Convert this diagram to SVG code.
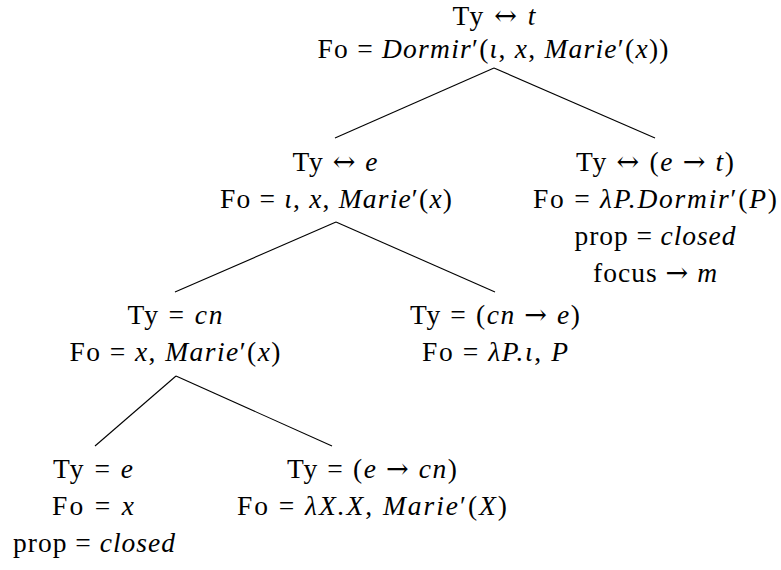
<svg xmlns="http://www.w3.org/2000/svg" width="781" height="570" viewBox="0 0 781 570">
<style>
text{font-family:"Liberation Serif","Times New Roman",serif;font-size:27.5px;fill:#000;text-anchor:middle}
.i{font-style:italic}
.a{font-family:"DejaVu Serif",serif;font-size:27px}
.edge{stroke:#000;stroke-width:1.1;fill:none}
</style>
<rect width="781" height="570" fill="#fff"/>
<g id="connectors">
<line class="edge" x1="494" y1="68" x2="335" y2="138"/>
<line class="edge" x1="494" y1="68" x2="655" y2="138"/>
<line class="edge" x1="336" y1="222" x2="175" y2="292"/>
<line class="edge" x1="336" y1="222" x2="495" y2="292"/>
<line class="edge" x1="176" y1="376" x2="95" y2="446"/>
<line class="edge" x1="176" y1="376" x2="332" y2="446"/>
</g>
<g id="root">
<text x="494" y="25" textLength="83" lengthAdjust="spacing">Ty <tspan class="a">↔</tspan> <tspan class="i">t</tspan></text>
<text x="493" y="58" textLength="351" lengthAdjust="spacing">Fo = <tspan class="i">Dormir</tspan>′(<tspan class="i">ι</tspan>, <tspan class="i">x</tspan>, <tspan class="i">Marie</tspan>′(<tspan class="i">x</tspan>))</text>
</g>
<g id="n-e">
<text x="335" y="171" textLength="85" lengthAdjust="spacing">Ty <tspan class="a">↔</tspan> <tspan class="i">e</tspan></text>
<text x="336" y="208" textLength="232" lengthAdjust="spacing">Fo = <tspan class="i">ι</tspan>, <tspan class="i">x</tspan>, <tspan class="i">Marie</tspan>′(<tspan class="i">x</tspan>)</text>
</g>
<g id="n-et">
<text x="655" y="171" textLength="158" lengthAdjust="spacing">Ty <tspan class="a">↔</tspan> (<tspan class="i">e</tspan> <tspan class="a">→</tspan> <tspan class="i">t</tspan>)</text>
<text x="655" y="208" textLength="244" lengthAdjust="spacing">Fo = <tspan class="i">λP.Dormir</tspan>′(<tspan class="i">P</tspan>)</text>
<text x="655" y="245" textLength="161" lengthAdjust="spacing">prop = <tspan class="i">closed</tspan></text>
<text x="655" y="282" textLength="124" lengthAdjust="spacing">focus <tspan class="a">→</tspan> <tspan class="i">m</tspan></text>
</g>
<g id="n-cn">
<text x="175" y="324" textLength="95" lengthAdjust="spacing">Ty = <tspan class="i">cn</tspan></text>
<text x="175" y="361" textLength="211" lengthAdjust="spacing">Fo = <tspan class="i">x</tspan>, <tspan class="i">Marie</tspan>′(<tspan class="i">x</tspan>)</text>
</g>
<g id="n-cne">
<text x="495" y="324" textLength="170" lengthAdjust="spacing">Ty = (<tspan class="i">cn</tspan> <tspan class="a">→</tspan> <tspan class="i">e</tspan>)</text>
<text x="495" y="361" textLength="146" lengthAdjust="spacing">Fo = <tspan class="i">λP.ι</tspan>, <tspan class="i">P</tspan></text>
</g>
<g id="n-e2">
<text x="93" y="478" textLength="80" lengthAdjust="spacing">Ty = <tspan class="i">e</tspan></text>
<text x="93" y="515" textLength="82" lengthAdjust="spacing">Fo = <tspan class="i">x</tspan></text>
<text x="94" y="552" textLength="162" lengthAdjust="spacing">prop = <tspan class="i">closed</tspan></text>
</g>
<g id="n-ecn">
<text x="372" y="478" textLength="170" lengthAdjust="spacing">Ty = (<tspan class="i">e</tspan> <tspan class="a">→</tspan> <tspan class="i">cn</tspan>)</text>
<text x="372" y="515" textLength="270" lengthAdjust="spacing">Fo = <tspan class="i">λX.X</tspan>, <tspan class="i">Marie</tspan>′(<tspan class="i">X</tspan>)</text>
</g>
</svg>
